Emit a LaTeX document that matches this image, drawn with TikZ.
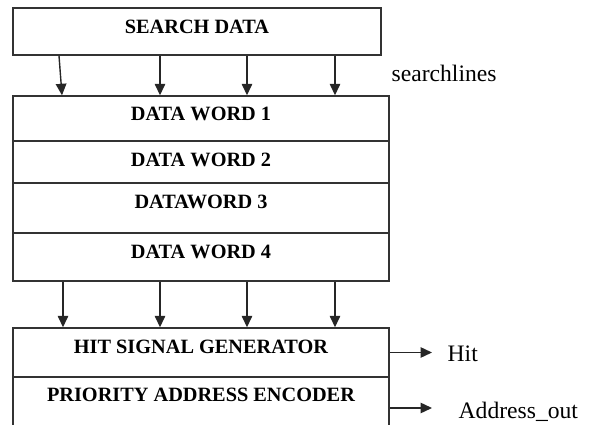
\documentclass[tikz,border=0pt]{standalone}
\usepackage{fontspec}
\setmainfont{Liberation Serif}
\usetikzlibrary{arrows.meta}

\tikzset{every picture/.style={line width=1.4pt}}
\tikzset{
	cell/.style={draw=black!80, inner sep=0pt, minimum width=376pt, text depth=9pt, font=\fontsize{20.3}{23}\selectfont\bfseries},
	bus/.style={draw=black!85, -{Triangle[length=11.5pt,width=10.5pt]}},
	lbl/.style={anchor=base west, inner sep=0pt, font=\fontsize{23.6}{26}\selectfont}
}

\begin{document}
\begin{tikzpicture}[x=1pt,y=1pt,yscale=-1,xscale=1]
	\useasboundingbox (0,0) rectangle (590,425);
	\clip (0,0) rectangle (590,425);
	%Shape: Rectangle [search data]
	\node[cell, minimum width=368pt, minimum height=47pt] (sd) at (197,31.5) {SEARCH DATA};
	%Shape: Rectangle [data words]
	\node[cell, minimum height=45pt] (dw1) at (201,118.5) {DATA WORD 1};
	\node[cell, minimum height=42pt, text depth=5pt] (dw2) at (201,162) {DATA WORD 2};
	\node[cell, minimum height=50pt, text depth=13pt] (dw3) at (201,208) {DATAWORD 3};
	\node[cell, minimum height=48pt, text depth=11pt] (dw4) at (201,257) {DATA WORD 4};
	%Shape: Rectangle [hit / encoder]
	\node[cell, minimum height=49pt, text depth=12pt] (hit) at (201,352.5) {HIT SIGNAL GENERATOR};
	\node[cell, minimum height=62pt, text depth=27pt] (pae) at (201,408) {PRIORITY ADDRESS ENCODER};
	
	% columns of the lines
	\coordinate (s1) at (59,0);
	\coordinate (t1) at (62,0);
	\coordinate (m1) at (63,0);
	\coordinate (c2) at (160,0);
	\coordinate (c3) at (247,0);
	\coordinate (c4) at (335,0);
	\coordinate (hitend) at (432,352.5);
	\coordinate (addrend) at (432,408);
	
	%Straight Lines [searchlines]
	\draw[bus] (sd.south -| s1) -- (dw1.north -| t1);
	\draw[bus] (sd.south -| c2) -- (dw1.north -| c2);
	\draw[bus] (sd.south -| c3) -- (dw1.north -| c3);
	\draw[bus] (sd.south -| c4) -- (dw1.north -| c4);
	%Straight Lines [match lines]
	\draw[bus] (dw4.south -| m1) -- (hit.north -| m1);
	\draw[bus] (dw4.south -| c2) -- (hit.north -| c2);
	\draw[bus] (dw4.south -| c3) -- (hit.north -| c3);
	\draw[bus] (dw4.south -| c4) -- (hit.north -| c4);
	%Straight Lines [outputs]
	\draw[bus] (hit.east) -- (hitend);
	\draw[bus] (pae.east) -- (addrend);
	
	% Text Node
	\node[lbl] (slbl) at (391,82) {searchlines};
	% Text Node
	\node[lbl] (hitlbl) at (447,362) {Hit};
	% Text Node
	\node[lbl] (addrlbl) at (458,418) {Address\_out};
\end{tikzpicture}
\end{document}
